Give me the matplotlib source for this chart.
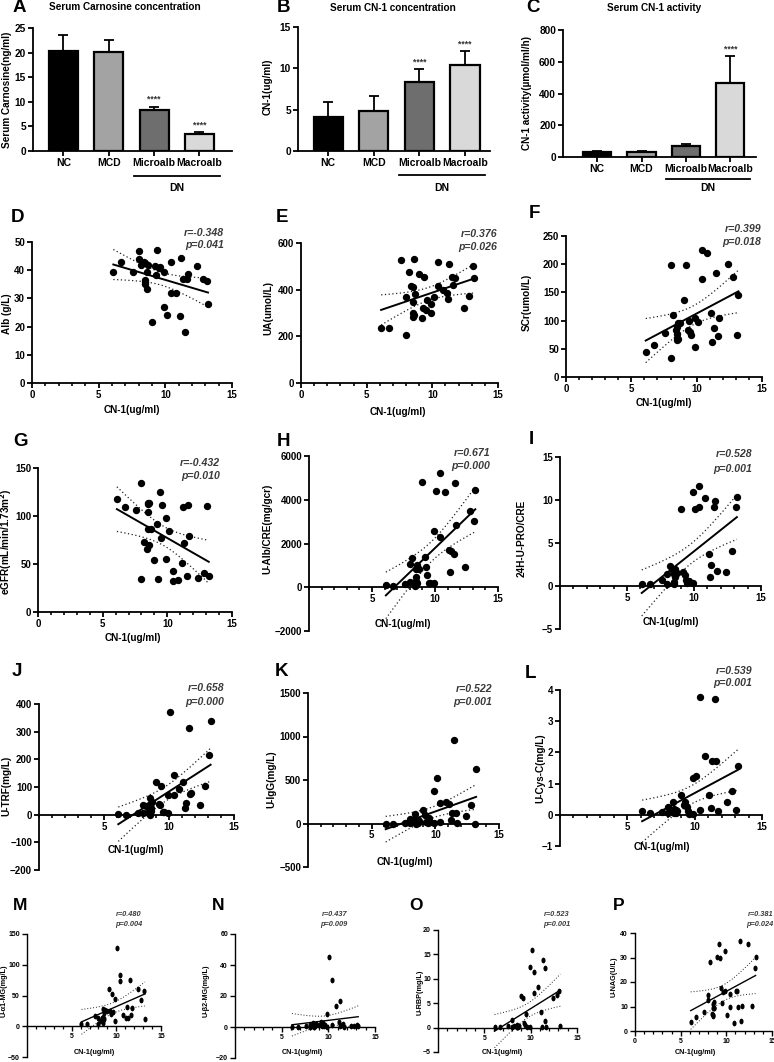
import numpy as np
import matplotlib
matplotlib.use('Agg')
import matplotlib.pyplot as plt
from matplotlib.ticker import MultipleLocator, FixedLocator
import matplotlib.transforms as mtransforms
from matplotlib.markers import MarkerStyle
from matplotlib import font_manager

plt.rcParams['font.family'] = ['Liberation Sans', 'DejaVu Sans']
plt.rcParams['font.weight'] = 'bold'
plt.rcParams['axes.labelweight'] = 'bold'

_names = {f.name for f in font_manager.fontManager.ttflist}
NARROW = ['Liberation Sans Narrow', 'Liberation Sans', 'DejaVu Sans'] if 'Liberation Sans Narrow' in _names \
    else ['Liberation Sans', 'DejaVu Sans']

# ---------------- data ----------------
groups = ['NC', 'MCD', 'Microalb', 'Macroalb']
bar_colors = ['#000000', '#a3a3a3', '#6e6e6e', '#d9d9d9']
carnosine_mean = [20.3, 20.2, 8.3, 3.4]
carnosine_sd = [3.2, 2.4, 0.7, 0.4]
cn1_conc_mean = [4.1, 4.8, 8.4, 10.4]
cn1_conc_sd = [1.8, 1.8, 1.5, 1.7]
cn1_act_mean = [32, 33, 70, 468]
cn1_act_sd = [6, 7, 14, 168]
carnosine_stars = ['', '', '****', '****']
cn1_conc_stars = ['', '', '****', '****']
cn1_act_stars = ['', '', '', '****']

cn1 = [6.1, 6.7, 7.6, 8.0, 8.0, 8.2, 8.4, 8.5, 8.5, 8.5, 8.5, 8.6, 8.6, 8.7, 9.0, 9.2, 9.3, 9.4,
       9.5, 9.6, 9.9, 9.9, 10.1, 10.4, 10.4, 10.8, 11.1, 11.2, 11.3, 11.5, 11.6, 11.7, 12.4, 12.8, 13.1, 13.2]
alb = [39.4, 42.9, 39.4, 46.7, 43.8, 41.7, 42.9, 36.6, 35.7, 35.2, 42.5, 33.4, 39.2, 41.9, 21.7, 41.6, 38.4, 47.0,
       40.7, 41.0, 39.2, 27.1, 24.1, 43.0, 31.8, 31.8, 23.8, 44.3, 36.9, 18.2, 36.9, 38.6, 41.4, 36.9, 36.1, 27.9]
ua = [236, 236, 528, 204, 369, 474, 417, 411, 346, 300, 281, 290, 531, 380, 469, 280, 321, 453,
      314, 357, 340, 300, 369, 416, 519, 399, 386, 360, 509, 453, 420, 449, 321, 371, 500, 450]
scr = [44, 57, 78, 33, 199, 110, 84, 77, 70, 65, 88, 95, 68, 95, 136, 199, 84, 100,
       80, 74, 54, 105, 98, 174, 226, 220, 113, 62, 87, 184, 72, 104, 200, 178, 74, 146]
egfr = [118, 109, 106, 134, 34, 73, 66, 104, 114, 113, 86, 70, 114, 86, 54, 92, 34, 125,
        77, 111, 98, 55, 84, 43, 32, 33, 51, 109, 72, 38, 111, 79, 35, 41, 110, 37]
ualb_cre = [107, 76, 137, 259, 1066, 1325, 76, 457, 822, 120, 300, 200, 1000, 822, 4828, 1401, 944, 548,
            183, 213, 2574, 213, 4417, 2315, 5209, 4371, 1706, 685, 1660, 1523, 4782, 2833, 944, 3503, 3031, 4447]
pro_cre = [0.2, 0.23, 0.7, 1.4, 0.23, 2.3, 1.9, 0.2, 1.7, 1.4, 0.5, 1.0, 2.0, 1.5, 8.9, 1.6, 1.3, 0.7,
           0.3, 0.6, 0.4, 10.9, 8.9, 9.2, 11.6, 10.2, 3.7, 1.0, 2.5, 9.2, 9.9, 1.8, 1.6, 4.05, 9.2, 10.4]
trf = [2, 0, 7, 7, 35, 30, 10, 62, -2, 31, 40, 25, 15, 45, 118, 40, 34, 102,
       10, 8, 7, 70, 372, 145, 70, 94, 118, 24, 42, 312, 73, 78, 36, 103, 215, 337]
igg = [0, 0, 8, 8, 46, 35, 104, 0, 35, 20, 10, 5, 40, 30, 150, 92, 15, 4,
       60, 15, 373, 10, 527, 235, 12, 246, 227, 42, 119, 957, 119, 4, 88, 212, 0, 631]
cysc = [0.12, 0.06, 0.09, 0.25, 0.05, 0.12, 0.40, 0.19, 0.05, 0.11, 0.08, 0.15, 0.05, 0.11, 0.64, 0.31, 0.41, 0.25,
        0.12, 0.04, 0.03, 1.18, 1.23, 3.76, 0.14, 1.88, 0.62, 0.22, 1.73, 3.72, 1.73, 0.11, 0.41, 0.76, 0.16, 1.57]
a1mg = [3, 3, 16, 4, 14, 8, 13, 28, 10, 15, 5, 22, 12, 26, 24, 61, 25, 20,
        52, 23, 45, 8, 127, 83, 73, 19, 13, 32, 13, 76, 18, 30, 61, 42, 58, 11]
b2mg = [0.3, 0.2, 0.5, 1.0, 0.2, 0.8, 2.5, 0.3, 1.5, 0.6, 0.2, 1.2, 0.4, 2.0, 1.5, 3.5, 0.5, 2.5,
        0.8, 1.0, 8.7, 0.3, 45.0, 30.5, 1.0, 13.6, 3.0, 16.6, 0.5, 1.5, 2.0, 0.3, 0.5, 0.8, 1.2, 0.4]
rbp = [0.1, 0.05, 0.3, 1.6, 0.1, 0.3, 0.4, 0.1, 0.2, 0.6, 0.1, 0.2, 0.3, 0.4, 6.5, 6.1, 0.9, 0.5,
       2.7, 0.2, 12.5, 0.1, 16.0, 11.3, 7.0, 8.4, 3.1, 0.1, 13.9, 12.3, 1.3, 0.2, 6.0, 6.7, 7.6, 0.3]
nag = [3.7, 5.9, 7.9, 14.6, 12.6, 28.0, 7.1, 6.2, 9.5, 11.0, 6.5, 9.5, 12.0, 9.5, 30.2, 35.7, 29.9, 17.4,
       11.6, 16.0, 32.7, 16.2, 6.5, 9.9, 15.0, 3.4, 16.2, 16.2, 9.9, 36.7, 4.0, 10.1, 35.5, 10.3, 25.8, 30.2]

W, H = 774, 1062
fig = plt.figure(figsize=(W / 100, H / 100), dpi=100)


def fx(px):
    return px / W


def fy(py):
    return 1 - py / H


def add_ax(x0, y0, x1, y1):
    return fig.add_axes([x0 / W, 1 - y1 / H, (x1 - x0) / W, (y1 - y0) / H])


def style(ax, fs=7, lw=1.3, family=None):
    for s in ['top', 'right']:
        ax.spines[s].set_visible(False)
    for s in ['left', 'bottom']:
        ax.spines[s].set_linewidth(lw)
    ax.tick_params(axis='both', which='major', direction='out', length=3.5, width=lw,
                   labelsize=fs, pad=1.5)
    ax.tick_params(axis='x', which='minor', direction='out', length=2.2, width=lw * 0.9)
    for lab in ax.get_xticklabels() + ax.get_yticklabels():
        lab.set_fontweight('bold')
        if family:
            lab.set_family(family)


def letter(px, py, t, size=13.5, family=None):
    fig.text(fx(px), fy(py), t, fontsize=size, fontweight='bold', ha='center', va='center',
             family=family or ['Liberation Sans', 'DejaVu Sans'])


# ---------------- bar panels ----------------
def bar_panel(box, xlim, mean, sd, stars, ylim, ystep, title, title_xy, ylabel, ylab_xy,
              letter_xy, let, dn_y, dn_text_y):
    ax = add_ax(*box)
    x = np.arange(len(groups))
    ax.bar(x, mean, width=0.64, color=bar_colors, edgecolor='black', linewidth=1.6, zorder=2)
    ax.errorbar(x, mean, yerr=[np.zeros(len(sd)), sd], fmt='none', ecolor='black',
                elinewidth=1.3, capsize=3.5, capthick=1.3, zorder=1)
    for xi, m, s, st in zip(x, mean, sd, stars):
        if st:
            ax.annotate(st, (xi, m + s), xytext=(0, 2), textcoords='offset points',
                        ha='center', va='bottom', fontsize=6.2, fontweight='bold', color='#333333')
    ax.set_xlim(*xlim)
    ax.set_ylim(*ylim)
    ax.yaxis.set_major_locator(MultipleLocator(ystep))
    ax.set_xticks(x)
    ax.set_xticklabels(groups)
    style(ax, fs=7.3)
    ax.tick_params(axis='x', labelsize=7.5)
    tr = mtransforms.blended_transform_factory(ax.transData, ax.transAxes)
    ax.plot([1.55, 3.45], [dn_y, dn_y], color='black', lw=1.3, transform=tr, clip_on=False)
    ax.text(2.5, dn_text_y, 'DN', transform=tr, ha='center', va='center', fontsize=7.5,
            fontweight='bold')
    fig.text(fx(title_xy[0]), fy(title_xy[1]), title, fontsize=7.2, fontweight='bold',
             ha='center', va='center')
    fig.text(fx(ylab_xy[0]), fy(ylab_xy[1]), ylabel, fontsize=7.2, fontweight='bold',
             rotation=90, ha='center', va='center')
    letter(*letter_xy, let)
    return ax


bar_panel((33, 28, 232, 151), (-0.67, 3.72), carnosine_mean, carnosine_sd, carnosine_stars,
          (0, 25), 5, 'Serum Carnosine concentration', (125, 7), 'Serum Carnosine(ng/ml)', (7, 90),
          (19, 8), 'A', -0.205, -0.30)
bar_panel((298, 27, 490, 151), (-0.66, 3.55), cn1_conc_mean, cn1_conc_sd, cn1_conc_stars,
          (0, 15), 5, 'Serum CN-1 concentration', (393, 8), 'CN-1(ug/ml)', (268, 87),
          (283, 8), 'B', -0.195, -0.30)
bar_panel((563, 30, 756, 157), (-0.77, 3.58), cn1_act_mean, cn1_act_sd, cn1_act_stars,
          (0, 800), 200, 'Serum CN-1 activity', (654, 8), 'CN-1 activity(\u00b5mol/ml/h)', (527, 93),
          (533, 8), 'C', -0.175, -0.245)


# ---------------- scatter panels ----------------
def scatter_panel(box, yvals, ylim, ystep, zero_axis, xt, r, p, rp_xy, ylabel, ylab_xy,
                  xlab_xy, letter_xy, let, fs=7, lab_fs=7.2, rp_fs=7.6, ms=28, small=False,
                  let_size=13.5, family=None):
    ax = add_ax(*box)
    xv = np.array(cn1, float)
    yv = np.array(yvals, float)
    if small:
        mk = MarkerStyle('o', transform=mtransforms.Affine2D().scale(0.72, 1.0))
    else:
        mk = 'o'
    ax.scatter(xv, yv, s=ms, color='black', marker=mk, zorder=3, linewidths=0, clip_on=False)
    # regression with 95% confidence band
    b1, b0 = np.polyfit(xv, yv, 1)
    n = len(xv)
    xs = np.linspace(xv.min(), xv.max(), 100)
    yhat = b0 + b1 * xs
    resid = yv - (b0 + b1 * xv)
    s_err = np.sqrt(np.sum(resid ** 2) / (n - 2))
    sxx = np.sum((xv - xv.mean()) ** 2)
    ci = 2.032 * s_err * np.sqrt(1 / n + (xs - xv.mean()) ** 2 / sxx)
    ax.plot(xs, yhat, color='black', lw=1.4 if not small else 1.0, zorder=2)
    ax.plot(xs, yhat + ci, color='#222222', lw=0.9 if not small else 0.7, ls=(0, (1, 2)), zorder=2)
    ax.plot(xs, yhat - ci, color='#222222', lw=0.9 if not small else 0.7, ls=(0, (1, 2)), zorder=2)
    ax.set_xlim(0, 15)
    ax.set_ylim(*ylim)
    ax.yaxis.set_major_locator(MultipleLocator(ystep))
    ax.xaxis.set_major_locator(FixedLocator(xt))
    ax.xaxis.set_minor_locator(MultipleLocator(1))
    if zero_axis:
        ax.spines['bottom'].set_position(('data', 0))
    style(ax, fs=fs, lw=1.3 if not small else 1.0, family=family)
    fam = family or ['Liberation Sans', 'DejaVu Sans']
    fig.text(fx(rp_xy[0]), fy(rp_xy[1]), r, fontsize=rp_fs, fontweight='bold', style='italic',
             color='#3a3a3a', ha='right', va='center', family=fam)
    fig.text(fx(rp_xy[0]), fy(rp_xy[2]), p, fontsize=rp_fs, fontweight='bold', style='italic',
             color='#3a3a3a', ha='right', va='center', family=fam)
    fig.text(fx(ylab_xy[0]), fy(ylab_xy[1]), ylabel, fontsize=lab_fs, fontweight='bold',
             rotation=90, ha='center', va='center', family=fam)
    fig.text(fx(xlab_xy[0]), fy(xlab_xy[1]), 'CN-1(ug/ml)', fontsize=lab_fs, fontweight='bold',
             ha='center', va='center', family=fam)
    letter(*letter_xy, let, size=let_size, family=fam)
    return ax


full = [0, 5, 10, 15]
part = [5, 10, 15]

scatter_panel((32, 242, 232, 383), alb, (0, 50), 10, False, full, 'r=-0.348', 'p=0.041',
              (224, 233, 245), 'Alb (g/L)', (7, 314), (132, 410), (18, 217), 'D')
scatter_panel((301, 243, 498, 383), ua, (0, 600), 200, False, full, 'r=0.376', 'p=0.026',
              (497, 234, 247), 'UA(umol/L)', (268, 308), (398, 412), (282, 217), 'E')
scatter_panel((566, 236, 762, 377), scr, (0, 250), 50, False, full, 'r=0.399', 'p=0.018',
              (761, 229, 242), 'SCr(umol/L)', (527, 302), (664, 403), (534, 214), 'F')
scatter_panel((38, 468, 232, 612), egfr, (0, 150), 50, False, full, 'r=-0.432', 'p=0.010',
              (220, 463, 476), 'eGFR(mL/min/1.73m$^\\mathbf{2}$)', (6, 542), (133, 638), (20, 442), 'G')
scatter_panel((309, 456, 498, 631), ualb_cre, (-2000, 6000), 2000, True, part, 'r=0.671', 'p=0.000',
              (490, 453, 466), 'U-Alb/CRE(mg/gcr)', (267, 529), (403, 624), (283, 442), 'H')
scatter_panel((560, 457, 761, 629), pro_cre, (-5, 15), 5, True, part, 'r=0.528', 'p=0.001',
              (752, 454, 469), '24H-U-PRO/CRE', (522, 538), (671, 622), (531, 440), 'I')
scatter_panel((39, 704, 234, 870), trf, (-200, 400), 100, True, part, 'r=0.658', 'p=0.000',
              (224, 688, 702), 'U-TRF(mg/L)', (6, 786), (136, 850), (17, 672), 'J')
scatter_panel((308, 693, 499, 867), igg, (-500, 1500), 500, True, part, 'r=0.522', 'p=0.001',
              (492, 689, 702), 'U-IgG(mg/L)', (271, 779), (405, 862), (282, 672), 'K')
scatter_panel((560, 690, 762, 846), cysc, (-1, 4), 1, True, part, 'r=0.539', 'p=0.001',
              (752, 671, 683), 'U-Cys-C(mg/L)', (540, 768), (662, 847), (531, 673), 'L')

# bottom row (horizontally compressed in the reference)
kw = dict(fs=5.0, lab_fs=5.2, rp_fs=5.3, ms=17, small=True, let_size=12.5, family=NARROW)
scatter_panel((27, 934, 161, 1057), a1mg, (-50, 150), 50, True, part, 'r=0.480', 'p=0.004',
              (142, 914, 924), 'U-\u03b11-MG(mg/L)', (4, 991), (94, 1052), (20, 905), 'M', **kw)
scatter_panel((235, 934, 375, 1058), b2mg, (-20, 60), 20, True, part, 'r=0.437', 'p=0.009',
              (347, 914, 924), 'U-\u03b22-MG(mg/L)', (206, 991), (302, 1052), (218, 905), 'N', **kw)
scatter_panel((438, 930, 577, 1052), rbp, (-5, 20), 5, True, part, 'r=0.523', 'p=0.001',
              (570, 914, 924), 'U-RBP(mg/L)', (420, 992), (502, 1052), (416, 905), 'O', **kw)
scatter_panel((635, 933, 772, 1031), nag, (0, 40), 10, False, full, 'r=0.381', 'p=0.024',
              (773, 914, 924), 'U-NAG(U/L)', (614, 977), (695, 1053), (619, 905), 'P', **kw)

fig.savefig('out.png', dpi=100)
